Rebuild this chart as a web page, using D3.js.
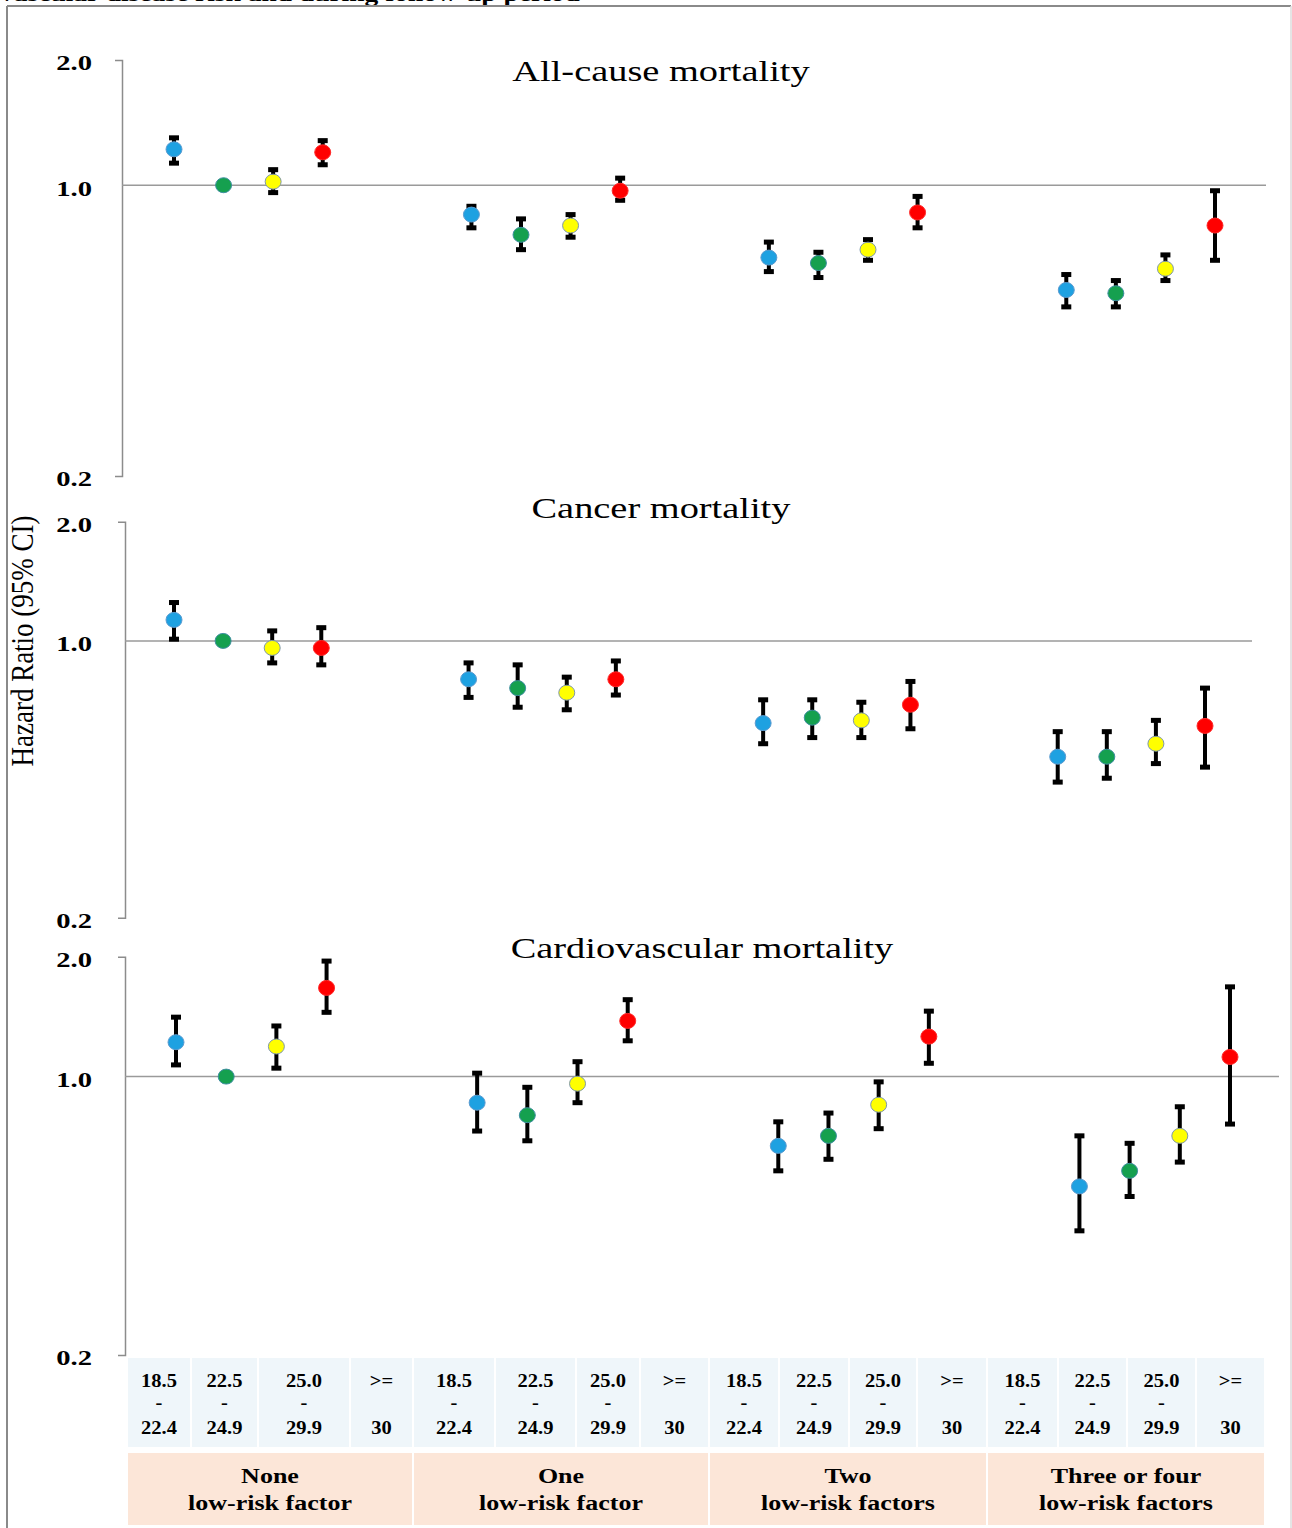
<!DOCTYPE html>
<html>
<head>
<meta charset="utf-8">
<style>
  html, body { margin: 0; padding: 0; background: #fff; }
  svg { display: block; font-family: "Liberation Serif", "Times New Roman", serif; }
</style>
</head>
<body>
<svg id="chart" width="1292" height="1528"></svg>

<script src="https://d3js.org/d3.v7.min.js"></script>
<script>
  // ---- data ----
  const panelTitles = ["All-cause mortality", "Cancer mortality", "Cardiovascular mortality"];
  const yTicks = [0.2, 1.0, 2.0];

  const bmiTop = ["18.5", "22.5", "25.0", ">="];
  const bmiMid = ["-", "-", "-", ""];
  const bmiBottom = ["22.4", "24.9", "29.9", "30"];

  const groupLine1 = ["None", "One", "Two", "Three or four"];
  const groupLine2 = ["low-risk factor", "low-risk factor", "low-risk factors", "low-risk factors"];

  // hazard ratios, 4 groups x 4 BMI categories (reference: None / 22.5-24.9)
  const allCauseHR = [1.22, 1.00, 1.02, 1.20,  0.85, 0.76, 0.80, 0.97,  0.67, 0.65, 0.70, 0.86,  0.56, 0.55, 0.63, 0.80];
  const allCauseLo = [1.13, null, 0.96, 1.12,  0.79, 0.70, 0.75, 0.92,  0.62, 0.60, 0.66, 0.79,  0.51, 0.51, 0.59, 0.66];
  const allCauseHi = [1.30, null, 1.09, 1.28,  0.89, 0.83, 0.85, 1.04,  0.73, 0.69, 0.74, 0.94,  0.61, 0.59, 0.68, 0.97];

  const cancerHR = [1.13, 1.00, 0.96, 0.96,  0.80, 0.76, 0.74, 0.80,  0.62, 0.64, 0.63, 0.69,  0.51, 0.51, 0.55, 0.61];
  const cancerLo = [1.01, null, 0.88, 0.87,  0.72, 0.68, 0.67, 0.73,  0.55, 0.57, 0.57, 0.60,  0.44, 0.45, 0.49, 0.48];
  const cancerHi = [1.25, null, 1.06, 1.08,  0.88, 0.87, 0.81, 0.89,  0.71, 0.71, 0.70, 0.79,  0.59, 0.59, 0.63, 0.76];

  const cvdHR = [1.22, 1.00, 1.19, 1.67,  0.86, 0.80, 0.96, 1.38,  0.67, 0.71, 0.85, 1.26,  0.53, 0.58, 0.71, 1.12];
  const cvdLo = [1.07, null, 1.05, 1.45,  0.73, 0.69, 0.86, 1.23,  0.58, 0.62, 0.74, 1.08,  0.41, 0.50, 0.61, 0.76];
  const cvdHi = [1.41, null, 1.34, 1.95,  1.02, 0.94, 1.09, 1.56,  0.77, 0.81, 0.97, 1.46,  0.71, 0.68, 0.84, 1.68];

  // ---- style / layout ----
  const bmiColors = ["#1ea1e1", "#15a04f", "#ffff00", "#ff0000"];
  const bmiStroke = ["#5b9bd0", "#3f8fa0", "#7e97ad", "#ff2a2a"];

  const panels = [
    { title: panelTitles[0], hr: allCauseHR, lo: allCauseLo, hi: allCauseHi,
      axisX: 122, top: 60, bottom: 476, x0: 174, x1: 1215, lineEnd: 1266, titleX: 661, titleY: 81 },
    { title: panelTitles[1], hr: cancerHR, lo: cancerLo, hi: cancerHi,
      axisX: 125, top: 521.7, bottom: 917.7, x0: 174, x1: 1205, lineEnd: 1252, titleX: 661, titleY: 518 },
    { title: panelTitles[2], hr: cvdHR, lo: cvdLo, hi: cvdHi,
      axisX: 125, top: 956.7, bottom: 1355, x0: 176, x1: 1230, lineEnd: 1279, titleX: 702, titleY: 958 }
  ];

  const colEdges = [127, 191, 258, 350, 413, 495, 576, 640, 709, 779, 849, 917, 987, 1058, 1127, 1196, 1265];
  const groupEdges = [127, 413, 709, 987, 1265];

  const svg = d3.select("#chart");

  // stretched text helper (the original figure is widened horizontally)
  function stext(parent, x, y, txt, size, sx, weight) {
    return parent.append("text")
      .attr("transform", `translate(${x},${y}) scale(${sx},1)`)
      .attr("text-anchor", "middle")
      .attr("font-size", size)
      .attr("font-weight", weight || "normal")
      .attr("fill", "#000")
      .text(txt);
  }

  // heading line, cut off at the top edge as in the source figure
  svg.append("text")
    .attr("transform", "translate(0,1) scale(1.25,1)")
    .attr("font-size", 22)
    .attr("font-weight", "bold")
    .text("vascular disease risk and during follow-up period");

  // frame
  svg.append("line").attr("x1", 7).attr("x2", 1291).attr("y1", 6).attr("y2", 6)
    .attr("stroke", "#8a8a8a").attr("stroke-width", 2);
  svg.append("line").attr("x1", 7).attr("x2", 7).attr("y1", 6).attr("y2", 1528)
    .attr("stroke", "#8a8a8a").attr("stroke-width", 2);
  svg.append("line").attr("x1", 1291).attr("x2", 1291).attr("y1", 6).attr("y2", 1528)
    .attr("stroke", "#dcdcdc").attr("stroke-width", 1.5);

  // y axis title
  svg.append("text")
    .attr("transform", "translate(33,641) scale(1.2,1) rotate(-90)")
    .attr("text-anchor", "middle")
    .attr("font-size", 27)
    .text("Hazard Ratio (95% CI)");

  panels.forEach(p => {
    const g = svg.append("g");
    const y = d3.scaleLog().domain([0.2, 2]).range([p.bottom, p.top]);
    const x = d3.scaleLinear().domain([0, 21]).range([p.x0, p.x1]);
    const slot = i => Math.floor(i / 4) * 6 + (i % 4);

    // axis
    const pad = p.axisX - 92;
    const ax = g.append("g")
      .attr("transform", `translate(${p.axisX},0)`)
      .call(d3.axisLeft(y).tickValues(yTicks).tickFormat(d3.format(".1f"))
        .tickSize(0).tickSizeOuter(7).tickPadding(pad));
    ax.select(".domain").attr("stroke", "#8c8c8c").attr("stroke-width", 1.5);
    ax.selectAll(".tick text")
      .attr("font-family", "'Liberation Serif', 'Times New Roman', serif")
      .attr("font-size", 22)
      .attr("font-weight", "bold")
      .attr("fill", "#000")
      .attr("x", -pad / 1.3)
      .attr("dy", "0.45em")
      .attr("transform", "scale(1.3,1)");

    // reference line at 1.0
    g.append("line")
      .attr("x1", p.axisX).attr("x2", p.lineEnd)
      .attr("y1", y(1)).attr("y2", y(1))
      .attr("stroke", "#9a9a9a").attr("stroke-width", 1.5);

    // title
    stext(g, p.titleX, p.titleY, p.title, 30, 1.28);

    const idx = d3.range(p.hr.length);
    const withCI = idx.filter(i => p.lo[i] != null);

    // error bars
    g.selectAll(".whisker").data(withCI).join("line")
      .attr("x1", i => x(slot(i))).attr("x2", i => x(slot(i)))
      .attr("y1", i => y(p.lo[i])).attr("y2", i => y(p.hi[i]))
      .attr("stroke", "#000").attr("stroke-width", 4);
    g.selectAll(".capHi").data(withCI).join("rect")
      .attr("x", i => x(slot(i)) - 5).attr("y", i => y(p.hi[i]) - 2.5)
      .attr("width", 10).attr("height", 5).attr("fill", "#000");
    g.selectAll(".capLo").data(withCI).join("rect")
      .attr("x", i => x(slot(i)) - 5).attr("y", i => y(p.lo[i]) - 2.5)
      .attr("width", 10).attr("height", 5).attr("fill", "#000");

    // markers
    g.selectAll(".pt").data(idx).join("ellipse")
      .attr("cx", i => x(slot(i))).attr("cy", i => y(p.hr[i]))
      .attr("rx", 8).attr("ry", 7.5)
      .attr("fill", i => bmiColors[i % 4])
      .attr("stroke", i => bmiStroke[i % 4])
      .attr("stroke-width", 1);
  });

  // ---- category table ----
  const table = svg.append("g");
  const cols = d3.range(colEdges.length - 1);
  table.selectAll(".bmiCell").data(cols).join("rect")
    .attr("x", i => colEdges[i] + 1).attr("y", 1358)
    .attr("width", i => colEdges[i + 1] - colEdges[i] - 2).attr("height", 89)
    .attr("fill", "#eff6fa");
  cols.forEach(i => {
    const cx = (colEdges[i] + colEdges[i + 1]) / 2;
    const k = i % 4;
    stext(table, cx, 1387, bmiTop[k], 19, 1.08, "bold");
    if (bmiMid[k]) stext(table, cx, 1409, bmiMid[k], 19, 1.08, "bold");
    stext(table, cx, 1434, bmiBottom[k], 19, 1.08, "bold");
  });

  const grps = d3.range(groupEdges.length - 1);
  table.selectAll(".grpCell").data(grps).join("rect")
    .attr("x", i => groupEdges[i] + 1).attr("y", 1453)
    .attr("width", i => groupEdges[i + 1] - groupEdges[i] - 2).attr("height", 72)
    .attr("fill", "#fce6d8");
  grps.forEach(i => {
    const cx = (groupEdges[i] + groupEdges[i + 1]) / 2;
    stext(table, cx, 1483, groupLine1[i], 20, 1.3, "bold");
    stext(table, cx, 1510, groupLine2[i], 20, 1.3, "bold");
  });
</script>
</body>
</html>
